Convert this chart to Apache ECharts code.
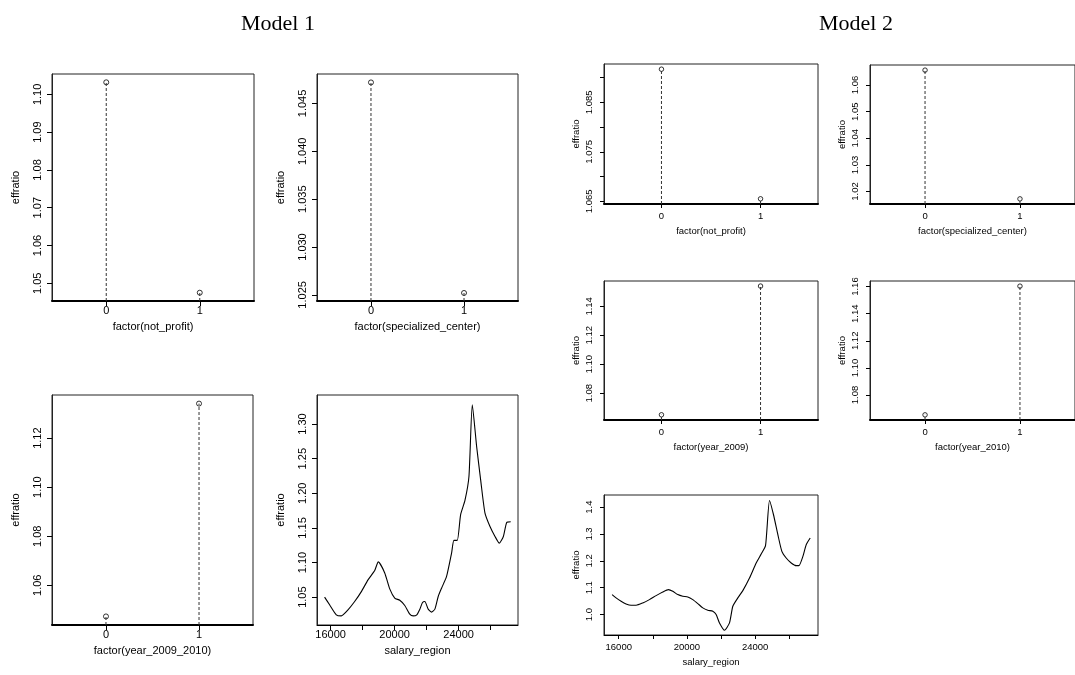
<!DOCTYPE html>
<html><head><meta charset="utf-8">
<script src="https://cdn.jsdelivr.net/npm/echarts/dist/echarts.min.js"></script>
<style>html,body{margin:0;padding:0;background:#fff}#c{width:1075px;height:675px}</style>
</head><body><div id="c"></div><script>
// ---------- data ----------
const factorLevels = [0, 1];
const factorTickLabels = ['0', '1'];

const m1NotProfit = [1.1032, 1.0475];
const m1Specialized = [1.0472, 1.0252];
const m1Year0910 = [1.0473, 1.1341];

const m2NotProfit = [1.0917, 1.0655];
const m2Specialized = [1.0656, 1.01725];
const m2Year2009 = [1.0651, 1.1540];
const m2Year2010 = [1.0654, 1.1603];

const m1SalaryX = [15624,15937,16355,16668,17086,17503,17921,18338,18756,18981,19382,19695,20008,20321,20635,20948,21157,21366,21576,21743,21889,22098,22307,22516,22724,22933,23246,23559,23706,23914,24123,24395,24645,24854,25125,25376,25647,25960,26273,26545,26795,27004,27255];
const m1SalaryY = [1.050,1.039,1.0245,1.023,1.0317,1.0437,1.058,1.075,1.0885,1.101,1.085,1.062,1.0487,1.0455,1.038,1.0255,1.023,1.024,1.0327,1.0423,1.0437,1.0327,1.0284,1.0327,1.051,1.063,1.0799,1.1136,1.132,1.132,1.169,1.1897,1.2244,1.328,1.2677,1.2195,1.1714,1.152,1.1377,1.128,1.1377,1.158,1.159];

const m2SalaryX = [15609,15843,16137,16430,16724,17018,17409,17800,18192,18583,18916,19170,19464,19757,20051,20344,20638,20931,21225,21519,21714,21910,22204,22497,22693,22986,23280,23671,24063,24357,24611,24846,25080,25335,25570,25824,26118,26411,26568,26803,26999,27233];
const m2SalaryY = [1.0743,1.062,1.0495,1.0396,1.0347,1.0347,1.0433,1.0557,1.0706,1.0842,1.0929,1.0867,1.0743,1.0681,1.0656,1.0557,1.0409,1.0248,1.0161,1.0124,1.0,0.969,0.9418,0.969,1.031,1.062,1.0892,1.136,1.192,1.2254,1.2563,1.4248,1.3715,1.2972,1.2353,1.2105,1.192,1.182,1.182,1.2167,1.26,1.2848];

// tick values / labels
const salaryTicks = [16000,18000,20000,22000,24000,26000];
const salaryTickLabels = [16000,20000,24000];
const m1NotProfitTicks = [1.05,1.06,1.07,1.08,1.09,1.10];
const m1SpecializedTicks = [1.025,1.030,1.035,1.040,1.045];
const m1Year0910Ticks = [1.06,1.08,1.10,1.12];
const m1SalaryTicks = [1.05,1.10,1.15,1.20,1.25,1.30];
const m2NotProfitTicks = [1.065,1.070,1.075,1.080,1.085,1.090];
const m2NotProfitTickLabels = [1.065,1.075,1.085];
const m2SpecializedTicks = [1.02,1.03,1.04,1.05,1.06];
const m2Year2009Ticks = [1.08,1.10,1.12,1.14];
const m2Year2010Ticks = [1.08,1.10,1.12,1.14,1.16];
const m2SalaryTicks = [1.0,1.1,1.2,1.3,1.4];

const titles = ['Model 1', 'Model 2'];
const yName = 'effratio';

// ---------- layout ----------
const panels = [
  {m:1, left:52,  top:74,  w:202, h:227, kind:'f', vals:m1NotProfit,  yr:[1.0453,1.1054], yt:m1NotProfitTicks, yl:m1NotProfitTicks, dec:2, xn:'factor(not_profit)'},
  {m:1, left:317, top:74,  w:201, h:227, kind:'f', vals:m1Specialized,yr:[1.02436,1.04808], yt:m1SpecializedTicks, yl:m1SpecializedTicks, dec:3, xn:'factor(specialized_center)'},
  {m:1, left:52,  top:395, w:201, h:230, kind:'f', vals:m1Year0910,   yr:[1.0438,1.1376], yt:m1Year0910Ticks, yl:m1Year0910Ticks, dec:2, xn:'factor(year_2009_2010)'},
  {m:1, left:317, top:395, w:201, h:230, kind:'s', xs:m1SalaryX, ys:m1SalaryY, xr:[15150,27710], yr:[1.0098,1.3420], yt:m1SalaryTicks, yl:m1SalaryTicks, dec:2, xn:'salary_region'},
  {m:2, left:604, top:64,  w:214, h:140, kind:'f', vals:m2NotProfit,  yr:[1.06445,1.09275], yt:m2NotProfitTicks, yl:m2NotProfitTickLabels, dec:3, xn:'factor(not_profit)'},
  {m:2, left:870, top:65,  w:214, h:139, kind:'f', vals:m2Specialized,yr:[1.01532,1.06753], yt:m2SpecializedTicks, yl:m2SpecializedTicks, dec:2, xn:'factor(specialized_center)'},
  {m:2, left:604, top:281, w:214, h:139, kind:'f', vals:m2Year2009,   yr:[1.0615,1.1575], yt:m2Year2009Ticks, yl:m2Year2009Ticks, dec:2, xn:'factor(year_2009)'},
  {m:2, left:870, top:281, w:214, h:139, kind:'f', vals:m2Year2010,   yr:[1.0616,1.1641], yt:m2Year2010Ticks, yl:m2Year2010Ticks, dec:2, xn:'factor(year_2010)'},
  {m:2, left:604, top:495, w:214, h:140, kind:'s', xs:m2SalaryX, ys:m2SalaryY, xr:[15135,27690], yr:[0.924,1.445], yt:m2SalaryTicks, yl:m2SalaryTicks, dec:1, xn:'salary_region'}
];

const sty = {
  1: {fs:11, yMargin:9, xMargin:4, yGap:31, xGap:20, tick:5, sym:5},
  2: {fs:9.5, yMargin:10, xMargin:7, yGap:23, xGap:22, tick:4, sym:4.5}
};
const FONT = 'Liberation Sans';

const grid = [], xAxis = [], yAxis = [], series = [];
panels.forEach((p, i) => {
  const s = sty[p.m];
  grid.push({left:p.left, top:p.top, width:p.w, height:p.h, show:true,
    borderColor:'#222', borderWidth:1, backgroundColor:'transparent', containLabel:false});
  const isF = p.kind === 'f';
  xAxis.push({
    type:'value', gridIndex:i,
    min: isF ? -0.58 : p.xr[0], max: isF ? 1.58 : p.xr[1],
    name:p.xn, nameLocation:'middle', nameGap:s.xGap,
    nameTextStyle:{fontFamily:FONT, fontSize:s.fs, color:'#000'},
    axisLine:{show:true, onZero:false, lineStyle:{color:'#000', width: isF ? 2 : 1}},
    axisTick:{show:true, length:s.tick, lineStyle:{color:'#000', width:1},
      customValues: isF ? factorLevels : salaryTicks},
    axisLabel:{show:true, margin:s.xMargin, fontFamily:FONT, fontSize:s.fs, color:'#000',
      customValues: isF ? factorLevels : salaryTickLabels,
      formatter: v => isF ? factorTickLabels[factorLevels.indexOf(v)] : String(v)},
    splitLine:{show:false}
  });
  yAxis.push({
    type:'value', gridIndex:i, min:p.yr[0], max:p.yr[1],
    name:yName, nameLocation:'middle', nameGap:s.yGap, nameRotate:90,
    nameTextStyle:{fontFamily:FONT, fontSize:s.fs, color:'#000'},
    axisLine:{show:true, onZero:false, lineStyle:{color:'#222', width:1}},
    axisTick:{show:true, length:s.tick, lineStyle:{color:'#000', width:1}, customValues:p.yt},
    axisLabel:{show:true, rotate:90, margin:s.yMargin, fontFamily:FONT, fontSize:s.fs, color:'#000',
      customValues:p.yl, formatter: v => Number(v).toFixed(p.dec)},
    splitLine:{show:false}
  });
  if (isF) {
    factorLevels.forEach((lv, k) => {
      series.push({type:'line', xAxisIndex:i, yAxisIndex:i, showSymbol:false, silent:true,
        animation:false, data:[[lv, p.yr[0]], [lv, p.vals[k]]],
        lineStyle:{color:'#333', width:1, type:[3,2]}});
    });
    series.push({type:'scatter', xAxisIndex:i, yAxisIndex:i, animation:false, silent:true,
      symbol:'circle', symbolSize:s.sym,
      data: factorLevels.map((lv, k) => [lv, p.vals[k]]),
      itemStyle:{color:'rgba(255,255,255,0)', borderColor:'#000', borderWidth:1}});
  } else {
    series.push({type:'line', xAxisIndex:i, yAxisIndex:i, showSymbol:false, silent:true,
      animation:false, smooth:0.2, data: p.xs.map((x, k) => [x, p.ys[k]]),
      lineStyle:{color:'#000', width:1.1}});
  }
});

const chart = echarts.init(document.getElementById('c'), null, {renderer:'canvas'});
chart.setOption({
  animation:false,
  backgroundColor:'#fff',
  title:[
    {text:titles[0], left:273, top:8, textAlign:'center',
      textStyle:{fontFamily:'Liberation Serif', fontWeight:'normal', fontSize:22, color:'#000'}},
    {text:titles[1], left:851, top:8, textAlign:'center',
      textStyle:{fontFamily:'Liberation Serif', fontWeight:'normal', fontSize:22, color:'#000'}}
  ],
  grid, xAxis, yAxis, series
});
</script></body></html>
